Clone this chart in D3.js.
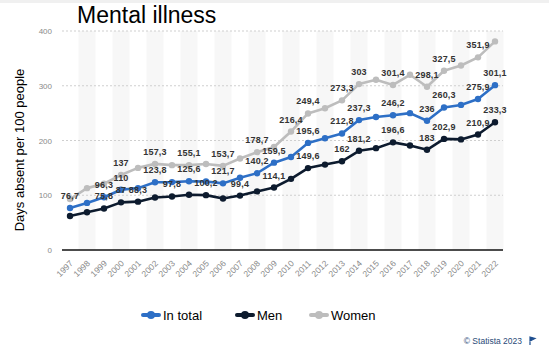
<!DOCTYPE html>
<html>
<head>
<meta charset="utf-8">
<script src="https://cdn.jsdelivr.net/npm/d3@7"></script>
<style>
html,body{margin:0;padding:0;background:#fff;}
svg{display:block;font-family:"Liberation Sans",Arial,sans-serif;}
</style>
</head>
<body>
<svg id="chart" width="549" height="355"></svg>
<script>
const years = ["1997","1998","1999","2000","2001","2002","2003","2004","2005","2006","2007","2008","2009","2010","2011","2012","2013","2014","2015","2016","2017","2018","2019","2020","2021","2022"];
const totalValues = [76.7,86,96.3,110,113,123.8,124,125.6,125,121.7,132,140.2,159.5,170,195.6,204,212.8,237.3,243,246.2,250,236,260.3,265,275.9,301.1];
const menValues = [62,69,75.8,87,88.3,96,97.8,101,100.2,94,99.4,107,114.1,130,149.6,156,162,181.2,186,196.6,191,183,202.9,202,210.9,233.3];
const womenValues = [93,113,121,137,150,157.3,155,155.1,157,153.7,167,178.7,188,216.4,249.4,259,273.3,303,311,301.4,320,298.1,327.5,337,351.9,381];
const totalLabelled = ["1997","1999","2000","2002","2004","2006","2008","2009","2011","2013","2014","2016","2018","2019","2021","2022"];
const menLabelled = ["1999","2000","2001","2003","2005","2007","2009","2011","2013","2014","2016","2018","2019","2021","2022"];
const womenLabelled = ["2000","2002","2004","2006","2008","2010","2011","2013","2014","2016","2018","2019","2021"];
const yTicks = [0,100,200,300,400];
const seriesNames = ["In total","Men","Women"];

const svg = d3.select("#chart");
const colors = {"In total":"#2d6fc6","Men":"#0d1b2e","Women":"#bdbdbd"};

// faint top strip
svg.append("rect").attr("x",0).attr("y",0).attr("width",549).attr("height",3).attr("fill","#f0f0f0");

const plotLeft = 62, plotRight = 503, plotTop = 31, plotBottom = 250;
const x = d3.scalePoint().domain(years).range([70,495]);
const y = d3.scaleLinear().domain([0,400]).range([plotBottom,plotTop]);
const step = x.step();

// alternating bands
svg.append("g").selectAll("rect").data(years.filter((d,i)=>i%2===1)).join("rect")
  .attr("x",d=>x(d)-step/2).attr("width",step)
  .attr("y",plotTop).attr("height",plotBottom-plotTop)
  .attr("fill","#f7f7f7");

// grid lines
svg.append("g").selectAll("line").data(yTicks.filter(t=>t>0)).join("line")
  .attr("x1",plotLeft).attr("x2",plotRight)
  .attr("y1",d=>y(d)).attr("y2",d=>y(d))
  .attr("stroke","#cfcfcf").attr("stroke-width",1).attr("stroke-dasharray","2,2");

// y axis labels
const yAxis = d3.axisLeft(y).tickValues(yTicks).tickSize(0).tickPadding(0);
const yg = svg.append("g").attr("transform",`translate(${plotLeft-10},0)`).call(yAxis);
yg.select(".domain").remove();
yg.selectAll("text").attr("font-size","8px").attr("fill","#8a8a8a").attr("font-family","Liberation Sans, Arial, sans-serif");

// x axis
const xAxis = d3.axisBottom(x).tickSize(0).tickPadding(0);
const xg = svg.append("g").attr("transform",`translate(0,${plotBottom})`).call(xAxis);
xg.select(".domain").remove();
xg.selectAll("text")
  .attr("font-size","8.5px").attr("fill","#888").attr("font-family","Liberation Sans, Arial, sans-serif")
  .attr("text-anchor","end").attr("dy",0).attr("y",0)
  .attr("transform","translate(3,14) rotate(-45)");

svg.append("line").attr("x1",plotLeft).attr("x2",plotRight)
  .attr("y1",y(0)).attr("y2",y(0)).attr("stroke","#111").attr("stroke-width",1.5);

// series
const series = [
  {name:"Women", values:womenValues, labelled:womenLabelled},
  {name:"In total", values:totalValues, labelled:totalLabelled},
  {name:"Men", values:menValues, labelled:menLabelled}
];
const line = d3.line().x((d,i)=>x(years[i])).y(d=>y(d));
series.forEach(s=>{
  const g = svg.append("g");
  g.append("path").attr("d",line(s.values)).attr("fill","none")
    .attr("stroke",colors[s.name]).attr("stroke-width",2.6).attr("stroke-linejoin","round");
  g.selectAll("circle").data(s.values).join("circle")
    .attr("cx",(d,i)=>x(years[i])).attr("cy",d=>y(d)).attr("r",3.2)
    .attr("fill",colors[s.name]);
});
const fmt = v => String(v).replace(".",",");
series.forEach(s=>{
  svg.append("g").selectAll("text").data(s.labelled).join("text")
    .attr("x",d=>x(d))
    .attr("y",d=>y(s.values[years.indexOf(d)])-9)
    .attr("text-anchor","middle")
    .attr("font-size","9px").attr("font-weight","bold").attr("fill","#333")
    .attr("letter-spacing","0.2px")
    .text(d=>fmt(s.values[years.indexOf(d)]));
});

// title
svg.append("text").attr("x",77).attr("y",23).attr("font-size","23px").attr("fill","#000").text("Mental illness");

// y title
svg.append("text").attr("transform","translate(24,150) rotate(-90)").attr("text-anchor","middle")
  .attr("font-size","13px").attr("fill","#000").text("Days absent per 100 people");

// legend
const legendX = {"In total":143,"Men":237,"Women":311};
const lg = svg.append("g");
seriesNames.forEach(n=>{
  const lx = legendX[n], ly = 315;
  lg.append("line").attr("x1",lx).attr("x2",lx+16).attr("y1",ly).attr("y2",ly)
    .attr("stroke",colors[n]).attr("stroke-width",4).attr("stroke-linecap","round");
  lg.append("circle").attr("cx",lx+8).attr("cy",ly).attr("r",4).attr("fill",colors[n]);
  lg.append("text").attr("x",lx+20).attr("y",ly+4.5).attr("font-size","13px").attr("fill","#000").text(n);
});

// footer
svg.append("text").attr("x",522).attr("y",344).attr("text-anchor","end")
  .attr("font-size","8.5px").attr("fill","#2a4a78").text("© Statista 2023");
svg.append("path").attr("d","M530 337 L530 345 M530 337 L535 338.5 L530 341 Z")
  .attr("stroke","#1f4f8f").attr("stroke-width",1.2).attr("fill","#1f4f8f");
</script>
</body>
</html>
